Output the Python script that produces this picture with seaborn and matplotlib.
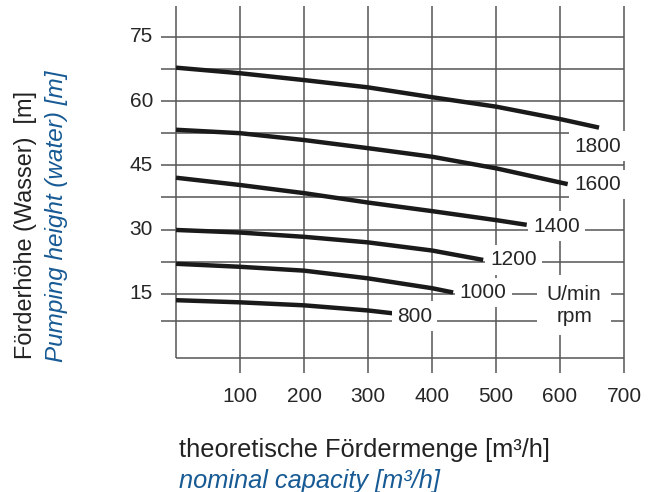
import pandas as pd
import numpy as np
import matplotlib
matplotlib.use("Agg")
import matplotlib.pyplot as plt
import seaborn as sns

# pump curves: flow [m3/h] vs head [m] for each speed
q_1800 = [0, 100, 200, 300, 400, 500, 600, 661]
h_1800 = [67.8, 66.5, 64.9, 63.2, 60.9, 58.7, 55.8, 53.8]
q_1600 = [0, 100, 200, 300, 400, 500, 600, 612]
h_1600 = [53.3, 52.5, 50.9, 49.0, 47.0, 44.3, 41.0, 40.6]
q_1400 = [0, 100, 200, 300, 400, 500, 548]
h_1400 = [42.1, 40.4, 38.5, 36.3, 34.3, 32.2, 31.1]
q_1200 = [0, 100, 200, 300, 400, 480]
h_1200 = [29.9, 29.3, 28.3, 27.0, 25.1, 22.9]
q_1000 = [0, 100, 200, 300, 400, 433]
h_1000 = [22.0, 21.3, 20.4, 18.6, 16.3, 15.3]
q_800 = [0, 100, 200, 300, 341]
h_800 = [13.5, 13.0, 12.3, 11.1, 10.4]

speeds = ["1800", "1600", "1400", "1200", "1000", "800"]
flows = [q_1800, q_1600, q_1400, q_1200, q_1000, q_800]
heads = [h_1800, h_1600, h_1400, h_1200, h_1000, h_800]

x_ticks = [100, 200, 300, 400, 500, 600, 700]
y_ticks = [15, 30, 45, 60, 75]
h_grid = [75, 67.5, 60, 52.5, 45, 37.5, 30, 22.5, 15, 8.7]

rows = []
for s, q, h in zip(speeds, flows, heads):
    for a, b in zip(q, h):
        rows.append({"rpm": s, "flow": a, "head": b})
df = pd.DataFrame(rows)

sns.set_style("white")
plt.rcParams["font.family"] = ["Liberation Sans", "DejaVu Sans"]

fig = plt.figure(figsize=(6.54, 4.92), dpi=100)
ax = fig.add_axes([176 / 654, 134 / 492, 448 / 654, 352 / 492])
ax.set_xlim(0, 700)
ax.set_ylim(0, 82.2)
ax.set_axis_off()

grid_c = "#555555"
fs = 15
blue = "#175a94"

# grid
ax.hlines(h_grid, -23.4, 700, color=grid_c, lw=1.1, clip_on=False, zorder=1)
ax.vlines(x_ticks, -3.5, 82.2, color=grid_c, lw=1.1, clip_on=False, zorder=1)
ax.vlines([0], 0, 82.2, color=grid_c, lw=1.1, clip_on=False, zorder=1)
ax.hlines([0], 0, 700, color=grid_c, lw=1.1, clip_on=False, zorder=1)

sns.lineplot(data=df, x="flow", y="head", hue="rpm", palette=["#1a1a1a"] * 6,
             estimator=None, sort=False, legend=False, lw=3.2, ax=ax, zorder=3)
for ln in ax.get_lines():
    ln.set_solid_capstyle("butt")
    ln.set_clip_on(False)

for t in x_ticks:
    ax.text(t, -8.9, str(t), ha="center", va="center", fontsize=fs)
for t in y_ticks:
    ax.text(-36, t, str(t), ha="right", va="center", fontsize=fs)

box = dict(boxstyle="square,pad=0.25", fc="white", ec="none")
labels = {"1800": (659, 49.5), "1600": (659, 40.5), "1400": (595, 30.8),
          "1200": (527, 22.9), "1000": (480, 15.3), "800": (373, 9.8)}
for s, (x, y) in labels.items():
    ax.text(x, y, s, ha="center", va="center", fontsize=fs, bbox=box,
            zorder=4, clip_on=False)
ax.text(622, 12.3, "U/min\nrpm", ha="center", va="center", fontsize=fs,
        linespacing=1.2, zorder=4, clip_on=False,
        bbox=dict(boxstyle="square,pad=0.45", fc="white", ec="none"))

fig.text(179 / 654, (492 - 457) / 492, "theoretische Fördermenge [m³/h]",
         ha="left", va="baseline", fontsize=18.3, color="#222222")
fig.text(179 / 654, (492 - 488) / 492, "nominal capacity [m³/h]",
         ha="left", va="baseline", fontsize=18.3, color=blue, style="italic")
fig.text(26 / 654, (492 - 225) / 492, "Förderhöhe (Wasser)  [m]", rotation=90,
         ha="center", va="center", fontsize=16.9, color="#222222")
fig.text(57 / 654, (492 - 216) / 492, "Pumping height (water) [m]", rotation=90,
         ha="center", va="center", fontsize=17.5, color=blue, style="italic")

fig.savefig("out.png", dpi=100)
